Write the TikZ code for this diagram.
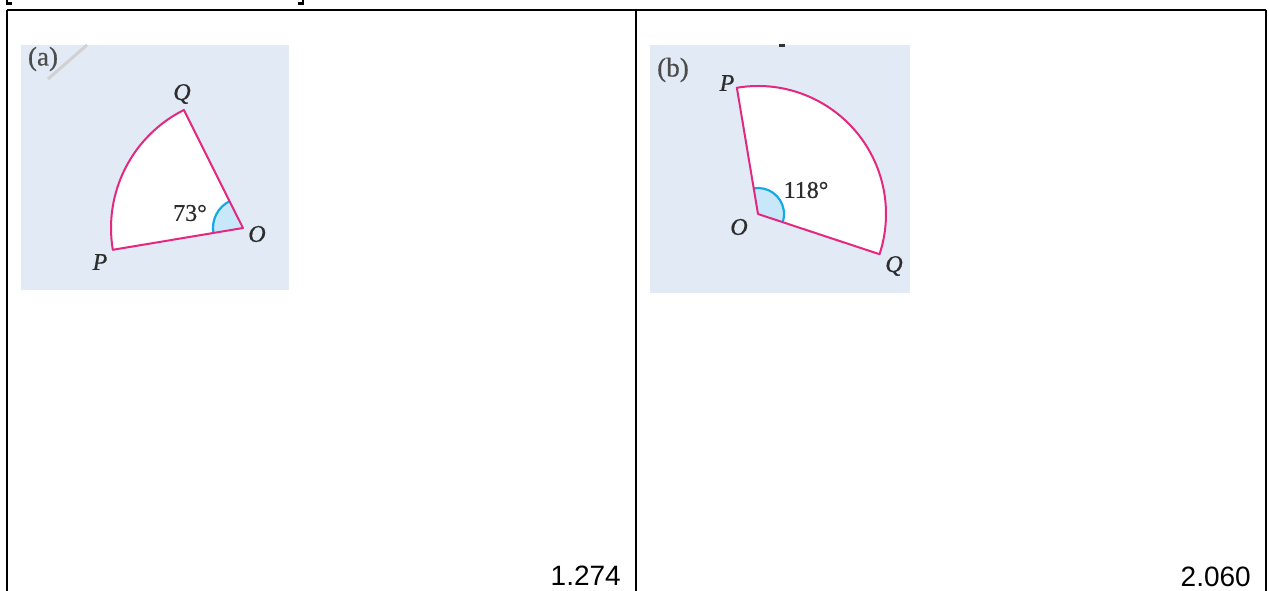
\documentclass[tikz,border=0pt]{standalone}
\usepackage{fontspec}
\newfontfamily\arialfont{Liberation Sans}
\newfontfamily\labelfont[FakeBold=0.6]{Liberation Serif}
\usetikzlibrary{calc}
\definecolor{panelbg}{RGB}{225,234,245}
\definecolor{sectorpink}{RGB}{228,40,128}
\definecolor{anglecyan}{RGB}{20,170,230}
\definecolor{anglefill}{RGB}{200,232,250}
\definecolor{labelink}{RGB}{45,45,45}
\tikzset{
  frameline/.style={line width=2.6pt, black},
  panel/.style={fill=panelbg, draw=none},
  sectorfill/.style={fill=white, draw=none},
  sectoredge/.style={draw=sectorpink, line width=2pt, line join=round},
  anglewedge/.style={fill=anglefill, draw=none},
  anglearc/.style={draw=anglecyan, line width=2.2pt},
  ptlabel/.style={font=\labelfont\fontsize{24}{28}\selectfont\itshape, text=labelink, inner sep=0pt},
  anglabel/.style={font=\labelfont\fontsize{24}{28}\selectfont, text=labelink, inner sep=0pt},
  partlabel/.style={font=\labelfont\fontsize{27}{30}\selectfont, text=black!70, inner sep=0pt},
  score/.style={font=\arialfont\fontsize{28}{32}\selectfont, inner sep=0pt}
}
\begin{document}
\begin{tikzpicture}[x=1pt,y=1pt]
\useasboundingbox (0,0) rectangle (1269,-590);
% table frame
\draw[frameline] (7,-10) -- (1266,-10);
\draw[frameline] (7,-10) -- (7,-595);
\draw[frameline] (636,-10) -- (636,-595);
\draw[frameline] (1266,-10) -- (1266,-595);
% clipped bracket fragments at the top
\draw[line width=2.2pt] (7,1) |- (12,-3.5);
\draw[line width=2.2pt] (298,-3.5) -| (303,1);

% ---------- panel (a) ----------
\fill[panel] (21,-45) rectangle (289,-290);
\draw[black!18, line width=3pt] (48,-79) -- (87,-45);
\node[partlabel] (la) at (43,-59) {(a)};
\coordinate (Oa) at (243,-228);
\coordinate (Qa) at ($(Oa)+(116.6:132)$);
\coordinate (Pa) at ($(Oa)+(189.5:132)$);
\fill[sectorfill] (Oa) -- (Qa) arc[start angle=116.6, end angle=189.5, radius=132] -- cycle;
\fill[anglewedge] (Oa) -- ($(Oa)+(116.6:30)$) arc[start angle=116.6, end angle=189.5, radius=30] -- cycle;
\draw[anglearc] ($(Oa)+(116.6:30)$) arc[start angle=116.6, end angle=189.5, radius=30];
\draw[sectoredge] (Oa) -- (Qa) arc[start angle=116.6, end angle=189.5, radius=132] -- cycle;
\node[ptlabel] (labQa) at (182,-94) {Q};
\node[ptlabel] (labOa) at (257,-234) {O};
\node[ptlabel] (labPa) at (100,-262) {P};
\node[anglabel] (angA) at (190,-213) {73°};

% ---------- panel (b) ----------
\fill[panel] (650,-45) rectangle (910,-293);
\fill[black!80] (779,-43.5) rectangle (785,-47);
\node[partlabel] (lb) at (673,-70) {(b)};
\coordinate (Ob) at (758,-214);
\coordinate (Pb) at ($(Ob)+(99.5:128)$);
\coordinate (Qb) at ($(Ob)+(-18.3:128)$);
\fill[sectorfill] (Ob) -- (Pb) arc[start angle=99.5, end angle=-18.3, radius=128] -- cycle;
\fill[anglewedge] (Ob) -- ($(Ob)+(99.5:26)$) arc[start angle=99.5, end angle=-18.3, radius=26] -- cycle;
\draw[anglearc] ($(Ob)+(99.5:26)$) arc[start angle=99.5, end angle=-18.3, radius=26];
\draw[sectoredge] (Ob) -- (Pb) arc[start angle=99.5, end angle=-18.3, radius=128] -- cycle;
\node[ptlabel] (labPb) at (727,-83) {P};
\node[ptlabel] (labOb) at (739,-227) {O};
\node[ptlabel] (labQb) at (894,-266) {Q};
\node[anglabel] (angB) at (806,-190) {118°};

% ---------- scores ----------
\node[score, anchor=base east] (scoreA) at (621,-585) {1.274};
\node[score, anchor=base east] (scoreB) at (1251,-586) {2.060};
\end{tikzpicture}
\end{document}
